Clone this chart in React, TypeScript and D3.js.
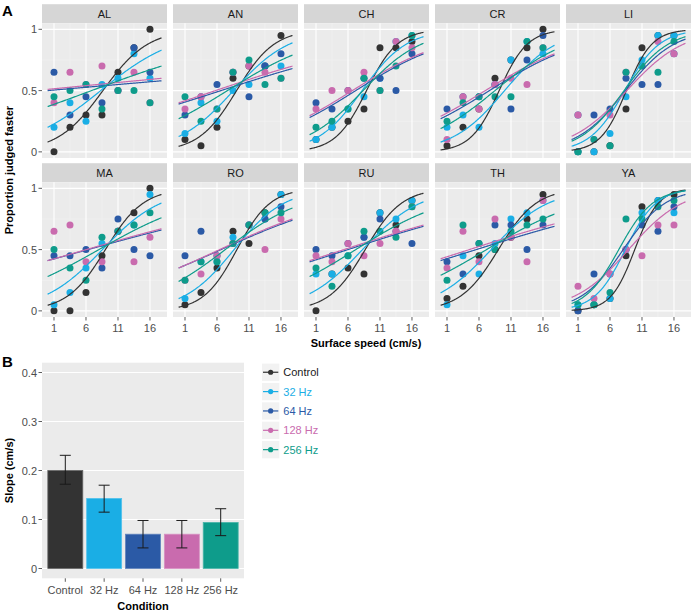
import React from "react";
import * as d3 from "d3";

const speeds = [1, 3.5, 6, 8.5, 11, 13.5, 16];
const conditions = ["Control", "32 Hz", "64 Hz", "128 Hz", "256 Hz"];
const condColors = ["#333333", "#1aaee5", "#2b5aa6", "#c96bae", "#0e9c8b"];
const subjects = ["AL", "AN", "CH", "CR", "LI", "MA", "RO", "RU", "TH", "YA"];
const xTicks = [1, 6, 11, 16];
const yTicksA = [0, 0.5, 1];
const yTickLabelsA = ["0", "0.5", "1"];

// proportion judged faster: rows = conditions, columns = speeds
const propAL = [
  [0, 0.2, 0.3, 0.3, 0.65, 0.85, 1.0],
  [0.2, 0.4, 0.25, 0.55, 0.6, 0.8, 0.6],
  [0.65, 0.3, 0.45, 0.4, 0.5, 0.85, 0.65],
  [0.4, 0.65, 0.55, 0.7, 0.5, 0.65, 0.4],
  [0.45, 0.5, 0.55, 0.35, 0.5, 0.5, 0.4],
];
const propAN = [
  [0.1, 0.05, 0.2, 0.6, 0.7, 0.7, 0.95],
  [0.15, 0.4, 0.25, 0.5, 0.55, 0.7, 0.7],
  [0.3, 0.45, 0.55, 0.65, 0.45, 0.7, 0.8],
  [0.35, 0.45, 0.35, 0.65, 0.7, 0.65, 0.6],
  [0.45, 0.25, 0.35, 0.65, 0.75, 0.55, 0.6],
];
const propCH = [
  [0.1, 0.2, 0.25, 0.35, 0.85, 0.85, 0.9],
  [0.1, 0.2, 0.35, 0.45, 0.6, 0.9, 0.95],
  [0.4, 0.35, 0.5, 0.6, 0.6, 0.5, 0.8],
  [0.35, 0.5, 0.5, 0.65, 0.5, 0.9, 0.85],
  [0.2, 0.25, 0.35, 0.6, 0.5, 0.7, 0.95],
];
const propCR = [
  [0.05, 0.2, 0.35, 0.6, 0.75, 0.85, 1.0],
  [0.2, 0.3, 0.2, 0.55, 0.75, 0.9, 0.8],
  [0.35, 0.45, 0.45, 0.55, 0.35, 0.75, 0.95],
  [0.1, 0.45, 0.35, 0.55, 0.6, 0.55, 0.85],
  [0.25, 0.4, 0.45, 0.45, 0.45, 0.9, 0.85],
];
const propLI = [
  [0.0, 0.0, 0.05, 0.35, 0.85, 0.95, 0.95],
  [0.0, 0.0, 0.15, 0.45, 0.75, 0.95, 0.95],
  [0.3, 0.3, 0.35, 0.6, 0.55, 0.55, 0.8],
  [0.3, 0.1, 0.3, 0.65, 0.7, 0.9, 0.8],
  [0.0, 0.1, 0.05, 0.65, 0.7, 0.65, 0.9],
];
const propMA = [
  [0, 0, 0.15, 0.45, 0.65, 0.8, 1.0],
  [0.05, 0.15, 0.35, 0.55, 0.65, 0.7, 0.95],
  [0.45, 0.45, 0.5, 0.35, 0.75, 0.5, 0.45],
  [0.65, 0.7, 0.4, 0.4, 0.65, 0.4, 0.6],
  [0.5, 0.35, 0.25, 0.6, 0.65, 0.7, 0.8],
];
const propRO = [
  [0.05, 0.15, 0.35, 0.65, 0.55, 0.8, 0.95],
  [0.1, 0.4, 0.4, 0.6, 0.7, 0.75, 0.95],
  [0.45, 0.65, 0.45, 0.55, 0.7, 0.75, 0.85],
  [0.25, 0.3, 0.45, 0.55, 0.7, 0.5, 0.75],
  [0.25, 0.4, 0.4, 0.55, 0.7, 0.8, 0.8],
];
const propRU = [
  [0.0, 0.3, 0.35, 0.3, 0.8, 0.7, 0.9],
  [0.3, 0.3, 0.45, 0.6, 0.8, 0.75, 0.9],
  [0.5, 0.45, 0.55, 0.6, 0.75, 0.65, 0.55],
  [0.45, 0.4, 0.55, 0.45, 0.55, 0.65, 0.85],
  [0.35, 0.2, 0.45, 0.65, 0.65, 0.6, 0.85],
];
const propTH = [
  [0.1, 0.2, 0.45, 0.5, 0.6, 0.75, 0.95],
  [0.05, 0.45, 0.3, 0.55, 0.75, 0.8, 0.9],
  [0.4, 0.3, 0.55, 0.7, 0.7, 0.5, 0.7],
  [0.35, 0.65, 0.4, 0.75, 0.6, 0.4, 0.9],
  [0.25, 0.7, 0.55, 0.5, 0.65, 0.7, 0.75],
];
const propYA = [
  [0.0, 0.05, 0.1, 0.45, 0.85, 0.9, 0.95],
  [0.05, 0.05, 0.1, 0.5, 0.8, 0.9, 0.8],
  [0.0, 0.3, 0.3, 0.5, 0.7, 0.65, 0.85],
  [0.2, 0.1, 0.3, 0.5, 0.45, 0.7, 0.7],
  [0.05, 0.05, 0.15, 0.75, 0.75, 0.85, 0.9],
];

// fitted logistic curves: value at start (0 cm/s) and end (17.8 cm/s)
const fitStartEnd = 17.8;
const fitAL = [[0.08, 0.93], [0.2, 0.83], [0.5, 0.58], [0.51, 0.6], [0.37, 0.7]];
const fitAN = [[0.045, 0.95], [0.125, 0.89], [0.39, 0.68], [0.4, 0.7], [0.27, 0.79]];
const fitCH = [[0.025, 0.975], [0.087, 0.94], [0.28, 0.8], [0.295, 0.81], [0.14, 0.886]];
const fitCR = [[0.016, 0.98], [0.08, 0.87], [0.27, 0.79], [0.29, 0.8], [0.19, 0.83]];
const fitLI = [[0.014, 0.99], [0.046, 0.97], [0.1, 0.92], [0.127, 0.886], [0.087, 0.94]];
const fitMA = [[0.046, 0.95], [0.136, 0.88], [0.41, 0.66], [0.41, 0.67], [0.28, 0.76]];
const fitRO = [[0.03, 0.965], [0.1, 0.91], [0.35, 0.74], [0.35, 0.75], [0.24, 0.84]];
const fitRU = [[0.046, 0.96], [0.14, 0.89], [0.4, 0.69], [0.41, 0.7], [0.28, 0.8]];
const fitTH = [[0.046, 0.95], [0.147, 0.9], [0.41, 0.69], [0.425, 0.71], [0.29, 0.79]];
const fitYA = [[0.005, 0.986], [0.03, 0.98], [0.08, 0.95], [0.11, 0.89], [0.06, 0.98]];

// panel B
const slopeMean = [0.2, 0.143, 0.07, 0.07, 0.094];
const slopeLow = [0.172, 0.115, 0.042, 0.042, 0.067];
const slopeHigh = [0.231, 0.17, 0.098, 0.098, 0.122];
const yTicksB = [0, 0.1, 0.2, 0.3, 0.4];
const yTickLabelsB = ["0", "0.1", "0.2", "0.3", "0.4"];

const propBySubject: Record<string, number[][]> = {
  AL: propAL, AN: propAN, CH: propCH, CR: propCR, LI: propLI,
  MA: propMA, RO: propRO, RU: propRU, TH: propTH, YA: propYA,
};
const fitBySubject: Record<string, number[][]> = {
  AL: fitAL, AN: fitAN, CH: fitCH, CR: fitCR, LI: fitLI,
  MA: fitMA, RO: fitRO, RU: fitRU, TH: fitTH, YA: fitYA,
};

const FONT = "'Liberation Sans', Arial, Helvetica, sans-serif";
const PANEL_BG = "#ebebeb";
const STRIP_BG = "#d6d6d6";
const TICK_COL = "#4d4d4d";

const W = 691;
const H = 613;

// facet layout
const panelLeft0 = 42;
const panelW = 125;
const panelStep = 131;
const stripH = 19;
const rowTops = [23.2, 182.2];
const panelH = 134.8;

const logit = (p: number) => Math.log(p / (1 - p));

function Facet({ subject, col, row }: { subject: string; col: number; row: number }) {
  const x0 = panelLeft0 + col * panelStep;
  const y0 = rowTops[row];
  const xs = d3.scaleLinear().domain([-0.875, 18.66]).range([x0, x0 + panelW]);
  const ys = d3.scaleLinear().domain([-0.05, 1.05]).range([y0 + panelH, y0]);
  const props = propBySubject[subject];
  const fits = fitBySubject[subject];
  const line = d3
    .line<[number, number]>()
    .x((d) => xs(d[0]))
    .y((d) => ys(d[1]))
    .curve(d3.curveLinear);
  const curveXs = d3.range(0, fitStartEnd + 0.001, 0.1);
  const minorX = [3.5, 8.5, 13.5];
  const minorY = [0.25, 0.75];
  return (
    <g>
      <rect x={x0} y={y0 - stripH} width={panelW} height={stripH} fill={STRIP_BG} />
      <text x={x0 + panelW / 2} y={y0 - stripH / 2 + 4} textAnchor="middle" fontSize={11} fill="#1a1a1a" fontFamily={FONT}>
        {subject}
      </text>
      <rect x={x0} y={y0} width={panelW} height={panelH} fill={PANEL_BG} />
      {minorY.map((v) => (
        <line key={"my" + v} x1={x0} x2={x0 + panelW} y1={ys(v)} y2={ys(v)} stroke="#f3f3f3" strokeWidth={0.6} />
      ))}
      {minorX.map((v) => (
        <line key={"mx" + v} x1={xs(v)} x2={xs(v)} y1={y0} y2={y0 + panelH} stroke="#f3f3f3" strokeWidth={0.6} />
      ))}
      {yTicksA.map((v) => (
        <line key={"gy" + v} x1={x0} x2={x0 + panelW} y1={ys(v)} y2={ys(v)} stroke="#ffffff" strokeWidth={1.1} />
      ))}
      {xTicks.map((v) => (
        <line key={"gx" + v} x1={xs(v)} x2={xs(v)} y1={y0} y2={y0 + panelH} stroke="#ffffff" strokeWidth={1.1} />
      ))}
      {props.map((vals, ci) =>
        vals.map((v, si) => (
          <circle key={`p${ci}-${si}`} cx={xs(speeds[si])} cy={ys(v)} r={3.5} fill={condColors[ci]} />
        ))
      )}
      {fits.map((f, ci) => {
        const a = logit(f[0]);
        const b = (logit(f[1]) - a) / fitStartEnd;
        const pts: [number, number][] = curveXs.map((x) => [x, 1 / (1 + Math.exp(-(a + b * x)))]);
        return <path key={"c" + ci} d={line(pts) || ""} fill="none" stroke={condColors[ci]} strokeWidth={1.2} />;
      })}
      {col === 0 &&
        yTicksA.map((v, i) => (
          <g key={"yt" + v}>
            <line x1={x0 - 3.5} x2={x0} y1={ys(v)} y2={ys(v)} stroke="#333" strokeWidth={0.8} />
            <text x={x0 - 5} y={ys(v) + 4} textAnchor="end" fontSize={11} fill={TICK_COL} fontFamily={FONT}>
              {yTickLabelsA[i]}
            </text>
          </g>
        ))}
      {row === 1 &&
        xTicks.map((v) => (
          <g key={"xt" + v}>
            <line x1={xs(v)} x2={xs(v)} y1={y0 + panelH} y2={y0 + panelH + 3.5} stroke="#333" strokeWidth={0.8} />
            <text x={xs(v)} y={y0 + panelH + 14.5} textAnchor="middle" fontSize={11} fill={TICK_COL} fontFamily={FONT}>
              {v}
            </text>
          </g>
        ))}
    </g>
  );
}

function PanelB() {
  const left = 42;
  const right = 244;
  const top = 362.7;
  const bottom = 578.3;
  const xs = d3.scalePoint<string>().domain(conditions).range([left, right]).padding(0.6);
  const step = xs.step();
  const bw = step * 0.9;
  const ys = d3.scaleLinear().domain([-0.02, 0.42]).range([bottom, top]);
  return (
    <g>
      <rect x={left} y={top} width={right - left} height={bottom - top} fill={PANEL_BG} />
      {yTicksB.map((v) => (
        <line key={"g" + v} x1={left} x2={right} y1={ys(v)} y2={ys(v)} stroke="#fff" strokeWidth={1.1} />
      ))}
      {conditions.map((c, i) => {
        const cx = xs(c) as number;
        const stroke = d3.interpolateRgb(condColors[i], "#ffffff")(0.25);
        return (
          <rect key={c} x={cx - bw / 2} y={ys(slopeMean[i])} width={bw} height={ys(0) - ys(slopeMean[i])} fill={condColors[i]} stroke={stroke} strokeWidth={0.8} />
        );
      })}
      {conditions.map((c, i) => {
        const cx = xs(c) as number;
        return (
          <g key={"e" + c} stroke="#1a1a1a" strokeWidth={1}>
            <line x1={cx} x2={cx} y1={ys(slopeLow[i])} y2={ys(slopeHigh[i])} />
            <line x1={cx - 5.5} x2={cx + 5.5} y1={ys(slopeLow[i])} y2={ys(slopeLow[i])} />
            <line x1={cx - 5.5} x2={cx + 5.5} y1={ys(slopeHigh[i])} y2={ys(slopeHigh[i])} />
          </g>
        );
      })}
      {yTicksB.map((v, i) => (
        <g key={"yt" + v}>
          <line x1={left - 3.5} x2={left} y1={ys(v)} y2={ys(v)} stroke="#333" strokeWidth={0.8} />
          <text x={left - 5} y={ys(v) + 4} textAnchor="end" fontSize={11} fill={TICK_COL} fontFamily={FONT}>
            {yTickLabelsB[i]}
          </text>
        </g>
      ))}
      {conditions.map((c) => (
        <g key={"xt" + c}>
          <line x1={xs(c) as number} x2={xs(c) as number} y1={bottom} y2={bottom + 3.5} stroke="#333" strokeWidth={0.8} />
          <text x={xs(c) as number} y={bottom + 15.5} textAnchor="middle" fontSize={11} fill={TICK_COL} fontFamily={FONT}>
            {c}
          </text>
        </g>
      ))}
      <text x={(left + right) / 2} y={610} textAnchor="middle" fontSize={11} fontWeight="bold" fill="#000" fontFamily={FONT}>
        Condition
      </text>
      <text transform={`translate(13,${(top + bottom) / 2}) rotate(-90)`} textAnchor="middle" fontSize={11} fontWeight="bold" fill="#000" fontFamily={FONT}>
        Slope (cm/s)
      </text>
    </g>
  );
}

function Legend() {
  const kx = 262;
  const ky0 = 363.6;
  const ks = 17.3;
  const kstep = 19.35;
  return (
    <g>
      {conditions.map((c, i) => {
        const y = ky0 + i * kstep;
        return (
          <g key={c}>
            <rect x={kx} y={y} width={ks} height={ks} fill="#f2f2f2" />
            <line x1={kx + 1} x2={kx + ks - 1} y1={y + ks / 2} y2={y + ks / 2} stroke={condColors[i]} strokeWidth={1.2} />
            <circle cx={kx + ks / 2} cy={y + ks / 2} r={2.6} fill={condColors[i]} />
            <text x={kx + ks + 4} y={y + ks / 2 + 4} fontSize={11} fill={i === 0 ? "#1a1a1a" : condColors[i]} fontFamily={FONT}>
              {c}
            </text>
          </g>
        );
      })}
    </g>
  );
}

export default function App() {
  return (
    <svg width={W} height={H} style={{ position: "absolute", left: 0, top: 0, background: "#fff" }}>
      <rect x={0} y={0} width={W} height={H} fill="#fff" />
      {subjects.map((s, i) => (
        <Facet key={s} subject={s} col={i % 5} row={Math.floor(i / 5)} />
      ))}
      <text transform={`translate(13,${(rowTops[0] + rowTops[1] + panelH) / 2}) rotate(-90)`} textAnchor="middle" fontSize={11} fontWeight="bold" fill="#000" fontFamily={FONT}>
        Proportion judged faster
      </text>
      <text x={366} y={347} textAnchor="middle" fontSize={11} fontWeight="bold" fill="#000" fontFamily={FONT}>
        Surface speed (cm/s)
      </text>
      <text x={2} y={16} fontSize={15} fontWeight="bold" fill="#000" fontFamily={FONT}>
        A
      </text>
      <text x={2} y={367} fontSize={15} fontWeight="bold" fill="#000" fontFamily={FONT}>
        B
      </text>
      <PanelB />
      <Legend />
    </svg>
  );
}
